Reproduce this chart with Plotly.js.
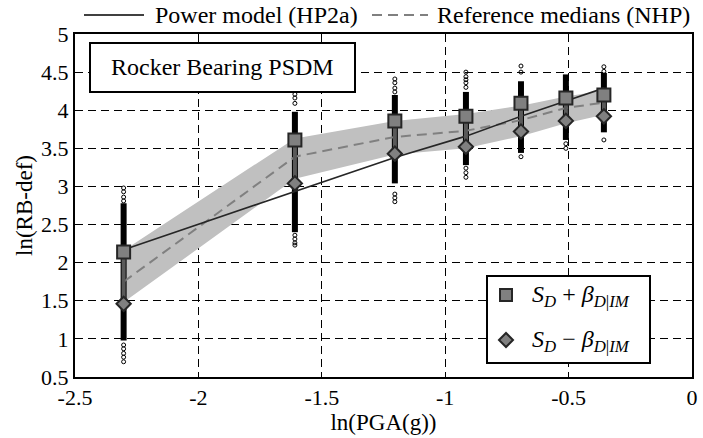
<!DOCTYPE html>
<html>
<head>
<meta charset="utf-8">
<script src="https://cdn.plot.ly/plotly-3.0.1.min.js"></script>
<style>html,body{margin:0;padding:0;background:#fff;}#chart{width:703px;height:438px;}</style>
</head>
<body>
<div id="chart"></div>
<script>
// ---- data ----
const lnPGA        = [-2.303, -1.609, -1.204, -0.916, -0.693, -0.511, -0.357];
const sdPlusBeta   = [2.14, 3.61, 3.86, 3.92, 4.09, 4.16, 4.20];
const sdMinusBeta  = [1.46, 3.04, 3.43, 3.52, 3.72, 3.86, 3.92];
const powerModel   = [2.17, 2.93, 3.38, 3.66, 3.92, 4.12, 4.29];
const refMedians   = [1.75, 3.39, 3.65, 3.73, 3.87, 4.03, 4.10];
const bandUpper    = [2.16, 3.63, 3.86, 3.95, 4.06, 4.18, 4.26];
const bandLower    = [1.48, 3.10, 3.42, 3.50, 3.66, 3.83, 3.94];
const denseTop     = [2.78, 3.98, 4.20, 4.24, 4.38, 4.47, 4.49];
const denseBottom  = [0.98, 2.40, 3.04, 3.28, 3.44, 3.61, 3.71];
const outliers     = [
  [2.98, 2.93, 2.86, 2.81, 0.92, 0.87, 0.81, 0.76, 0.70],
  [4.21, 4.16, 4.09, 2.36, 2.31, 2.26, 2.23],
  [4.41, 4.36, 4.29, 4.24, 2.90, 2.85, 2.80],
  [4.50, 4.44, 4.40, 4.36, 4.30, 3.24, 3.18, 3.12],
  [4.58, 4.50, 3.39],
  [3.56, 3.50],
  [4.57, 4.51, 3.61]
];
const xTickVals   = [-2.5, -2, -1.5, -1, -0.5, 0];
const xTickLabels = ['-2.5', '-2', '-1.5', '-1', '-0.5', '0'];
const yTickVals   = [0.5, 1, 1.5, 2, 2.5, 3, 3.5, 4, 4.5, 5];
const yTickLabels = ['0.5', '1', '1.5', '2', '2.5', '3', '3.5', '4', '4.5', '5'];
const seriesNames = ['Power model (HP2a)', 'Reference medians (NHP)'];
const boxTitle    = 'Rocker Bearing PSDM';

// ---- geometry helpers (pixel -> paper) ----
const W = 703, H = 438, ML = 75, MR = 11, MT = 34, MB = 61;
const PW = W - ML - MR, PH = H - MT - MB;
const px = x => (x - ML) / PW;
const py = y => (H - MB - y) / PH;

const FONT = 'Liberation Serif';

// band polygon
const bandX = lnPGA.concat(lnPGA.slice().reverse());
const bandY = bandUpper.concat(bandLower.slice().reverse());

// dense columns
const denseX = [], denseY = [];
lnPGA.forEach((x, i) => { denseX.push(x, x, null); denseY.push(denseTop[i], denseBottom[i], null); });
// outlier circles
const outX = [], outY = [];
outliers.forEach((arr, i) => arr.forEach(v => { outX.push(lnPGA[i]); outY.push(v); }));
// error bar connectors
const conX = [], conY = [];
lnPGA.forEach((x, i) => { conX.push(x, x, null); conY.push(sdPlusBeta[i], sdMinusBeta[i], null); });

const traces = [
  {x: bandX, y: bandY, type: 'scatter', mode: 'lines', fill: 'toself', fillcolor: '#c0c0c0',
   line: {width: 0, color: 'rgba(0,0,0,0)'}, hoverinfo: 'skip', showlegend: false},
  {x: denseX, y: denseY, type: 'scatter', mode: 'lines', line: {color: '#000', width: 6},
   showlegend: false, hoverinfo: 'skip'},
  {x: outX, y: outY, type: 'scatter', mode: 'markers',
   marker: {symbol: 'circle-open', size: 4, color: '#000', line: {width: 1}}, showlegend: false},
  {x: lnPGA, y: refMedians, type: 'scatter', mode: 'lines', name: seriesNames[1],
   line: {color: '#808080', width: 2, dash: '10px,6px'}, showlegend: false},
  {x: lnPGA, y: powerModel, type: 'scatter', mode: 'lines', name: seriesNames[0],
   line: {color: '#262626', width: 1.6}, showlegend: false},
  {x: conX, y: conY, type: 'scatter', mode: 'lines', line: {color: '#595959', width: 4},
   showlegend: false, hoverinfo: 'skip'},
  {x: lnPGA, y: sdPlusBeta, type: 'scatter', mode: 'markers', name: 'S_D + β',
   marker: {symbol: 'square', size: 13, color: '#808080', line: {color: '#262626', width: 2}}, showlegend: false},
  {x: lnPGA, y: sdMinusBeta, type: 'scatter', mode: 'markers', name: 'S_D − β',
   marker: {symbol: 'diamond', size: 11, color: '#808080', line: {color: '#262626', width: 2}}, showlegend: false}
];

const shapes = [
  {type: 'rect', xref: 'paper', yref: 'paper', x0: px(90), x1: px(355), y0: py(92), y1: py(43),
   fillcolor: '#fff', line: {color: '#000', width: 2}, layer: 'above'},
  {type: 'rect', xref: 'paper', yref: 'paper', x0: px(487), x1: px(650), y0: py(363), y1: py(276),
   fillcolor: '#fff', line: {color: '#000', width: 2}, layer: 'above'},
  {type: 'rect', xref: 'paper', yref: 'paper', x0: px(500), x1: px(512), y0: py(301), y1: py(289),
   fillcolor: '#808080', line: {color: '#262626', width: 2}, layer: 'above'},
  {type: 'path', xref: 'paper', yref: 'paper',
   path: `M ${px(499)} ${py(340)} L ${px(506)} ${py(333)} L ${px(513)} ${py(340)} L ${px(506)} ${py(347)} Z`,
   fillcolor: '#808080', line: {color: '#262626', width: 2}, layer: 'above'},
  {type: 'line', xref: 'paper', yref: 'paper', x0: px(84), x1: px(144), y0: py(15), y1: py(15),
   line: {color: '#000', width: 1.6}},
  {type: 'line', xref: 'paper', yref: 'paper', x0: px(372), x1: px(428), y0: py(15), y1: py(15),
   line: {color: '#808080', width: 2, dash: '10px,6px'}}
];

const annotations = [
  {xref: 'paper', yref: 'paper', x: px(222), y: py(67), text: boxTitle, showarrow: false,
   xanchor: 'center', yanchor: 'middle', font: {family: FONT, size: 24, color: '#000'}},
  {xref: 'paper', yref: 'paper', x: px(153), y: py(15), text: seriesNames[0], showarrow: false,
   xanchor: 'left', yanchor: 'middle', font: {family: FONT, size: 24, color: '#000'}},
  {xref: 'paper', yref: 'paper', x: px(435), y: py(15), text: seriesNames[1], showarrow: false,
   xanchor: 'left', yanchor: 'middle', font: {family: FONT, size: 24, color: '#000'}},
  {xref: 'paper', yref: 'paper', x: px(530), y: py(296), showarrow: false, xanchor: 'left', yanchor: 'middle',
   text: '<i>S</i><sub><i>D</i></sub> + <i>β</i><sub><i>D</i>|<i>IM</i></sub>',
   font: {family: FONT, size: 24, color: '#000'}},
  {xref: 'paper', yref: 'paper', x: px(530), y: py(341), showarrow: false, xanchor: 'left', yanchor: 'middle',
   text: '<i>S</i><sub><i>D</i></sub> − <i>β</i><sub><i>D</i>|<i>IM</i></sub>',
   font: {family: FONT, size: 24, color: '#000'}}
];

const layout = {
  width: W, height: H,
  margin: {l: ML, r: MR, t: MT, b: MB, pad: 0},
  paper_bgcolor: '#fff', plot_bgcolor: '#fff',
  font: {family: FONT, size: 22, color: '#000'},
  showlegend: false,
  xaxis: {
    range: [-2.5, 0], tickvals: xTickVals, ticktext: xTickLabels, ticks: '',
    showgrid: true, gridcolor: '#000', gridwidth: 1, griddash: '8px,5px',
    showline: true, linecolor: '#000', linewidth: 2, mirror: true, zeroline: false,
    tickfont: {family: FONT, size: 22, color: '#000'},
    title: {text: 'ln(PGA(g))', font: {family: FONT, size: 23, color: '#000'}, standoff: 2},
    automargin: false
  },
  yaxis: {
    range: [0.5, 5], tickvals: yTickVals, ticktext: yTickLabels, ticks: '',
    showgrid: true, gridcolor: '#000', gridwidth: 1, griddash: '8px,5px',
    showline: true, linecolor: '#000', linewidth: 2, mirror: true, zeroline: false,
    tickfont: {family: FONT, size: 22, color: '#000'},
    title: {text: 'ln(RB-def)', font: {family: FONT, size: 23, color: '#000'}, standoff: 2},
    automargin: false
  },
  shapes: shapes,
  annotations: annotations
};

Plotly.newPlot('chart', traces, layout, {displayModeBar: false, staticPlot: true});
</script>
</body>
</html>
